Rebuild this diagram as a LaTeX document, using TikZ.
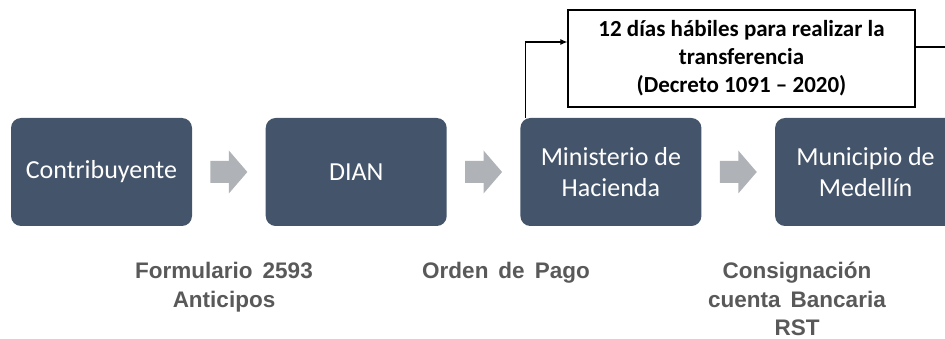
\documentclass[tikz,border=0pt]{standalone}
\usepackage{fontspec}
\usepackage{tikz}
\usetikzlibrary{arrows.meta,calc}
\newfontfamily\carlito{Carlito}
\newfontfamily\arialfont[WordSpace=1.6]{Liberation Sans}
\definecolor{azulcaja}{HTML}{44546A}
\definecolor{grisflecha}{HTML}{AFB2B6}
\definecolor{grisnota}{HTML}{595959}

\tikzset{
    caja/.style={fill=azulcaja, rounded corners=10pt, minimum width=181pt, minimum height=108pt,
        inner sep=0pt, text=white, align=center, font=\carlito\fontsize{26}{31}\selectfont},
    nota/.style={draw=black, line width=1.2pt, minimum width=347pt, minimum height=97pt,
        inner sep=0pt, align=center, font=\carlito\bfseries\fontsize{23}{28}\selectfont},
    etiqueta/.style={text=grisnota, align=center, font=\arialfont\bfseries\fontsize{22.5}{28.5}\selectfont},
    flecha/.pic={\fill[grisflecha] (-18.5,-11) -- (0,-11) -- (0,-21.5) -- (18.5,0)
        -- (0,21.5) -- (0,11) -- (-18.5,11) -- cycle;}
}

\begin{document}
\begin{tikzpicture}[x=1pt, y=1pt]
    \useasboundingbox (0,0) rectangle (945,-339);
    \clip (0,0) rectangle (945,-339);

    % Boxes of the flow
    \foreach \i/\txt in {0/Contribuyente, 1/DIAN, 2/{Ministerio de\\Hacienda}, 3/{Municipio de\\Medell\'in}} {
        \node[caja] (b\i) at (101.5+254.7*\i, -172) {\txt};
    }

    % Gray block arrows between boxes
    \foreach \i [evaluate=\i as \j using int(\i+1)] in {0,1,2} {
        \path ($(b\i.east)!0.5!(b\j.west)$) pic {flecha};
    }

    % Note box and its connectors
    \node[nota] (plazo) at (741.5, -58.5) {12 d\'ias h\'abiles para realizar la\\transferencia\\(Decreto 1091 – 2020)};
    \draw[line width=1.1pt, -{Latex[length=7pt, width=6pt]}] ([xshift=5pt]b2.north west) |- ([yshift=16.5pt]plazo.west);
    \draw[line width=1.1pt, -{Latex[length=7pt, width=6pt]}] ([yshift=11.5pt]plazo.east) -| ([xshift=-6pt]b3.north east);

    % Labels under the boxes
    \node[etiqueta] (form) at (224, -287) {Formulario 2593\\Anticipos};
    \node[etiqueta] (orden) at (506, -272.5) {Orden de Pago};
    \node[etiqueta] (consig) at (797, -299) {Consignaci\'on\\cuenta Bancaria\\RST};
\end{tikzpicture}
\end{document}
